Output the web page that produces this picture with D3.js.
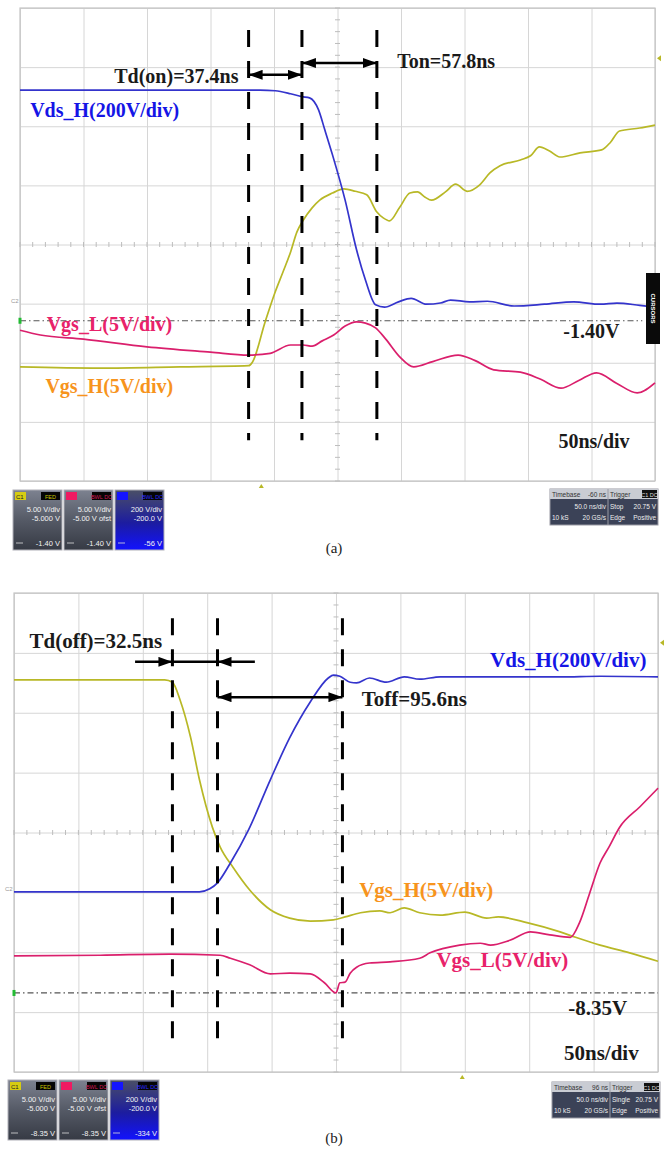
<!DOCTYPE html>
<html>
<head>
<meta charset="utf-8">
<script src="https://cdn.jsdelivr.net/npm/d3@7"></script>
<style>
body { margin:0; background:#fff; }
svg { display:block; }
.lbl { font-family:"Liberation Serif","Times New Roman",serif; font-weight:bold; }
.mini { font-family:"Liberation Sans",Arial,sans-serif; }
</style>
</head>
<body>
<div id="chart"></div>
<script>
// time in ns (50 ns/div, 10 div), level in divisions from screen centre (+-4 div)
const timeTicks = [0,50,100,150,200,250,300,350,400,450,500];
const divTicks  = [-4,-3,-2,-1,0,1,2,3,4];

// ---- (a) turn-on ----
const aVdsH = [[0,2.61],[63,2.61],[126,2.61],[189,2.61],[201,2.60],[213,2.55],[222,2.50],[228,2.48],[235,2.28],[240,1.94],[246,1.52],[256,0.75],[265,-0.09],[272,-0.60],[280,-1.02],[287,-1.06],[298,-0.97],[308,-0.91],[320,-1.01],[331,-0.99],[339,-0.94],[354,-0.97],[368,-0.96],[389,-1.04],[413,-1.01],[436,-0.97],[457,-1.01],[470,-0.99],[488,-1.03],[500,-1.06]];
const aVgsH = [[0,-2.07],[63,-2.09],[126,-2.07],[180,-2.05],[183,-1.99],[193,-1.31],[201,-0.80],[207,-0.47],[213,-0.13],[218,0.21],[223,0.41],[230,0.62],[236,0.75],[246,0.87],[255,0.94],[264,0.90],[273,0.84],[281,0.55],[286,0.45],[291,0.40],[299,0.63],[307,0.87],[313,0.89],[319,0.80],[324,0.75],[335,0.89],[343,1.02],[352,0.90],[362,1.01],[370,1.21],[378,1.33],[394,1.43],[402,1.50],[409,1.65],[417,1.58],[425,1.48],[441,1.55],[458,1.60],[465,1.73],[472,1.92],[488,1.97],[500,2.02]];
const aVgsL = [[0,-1.45],[16,-1.53],[50,-1.60],[100,-1.73],[150,-1.82],[180,-1.87],[197,-1.84],[213,-1.70],[223,-1.70],[230,-1.72],[238,-1.63],[247,-1.53],[256,-1.38],[265,-1.31],[272,-1.33],[280,-1.41],[288,-1.60],[299,-1.90],[310,-2.07],[325,-1.98],[345,-1.87],[358,-1.96],[373,-2.12],[394,-2.16],[410,-2.28],[426,-2.43],[440,-2.30],[454,-2.17],[470,-2.35],[486,-2.51],[500,-2.34]];
const aMarks  = [180, 222, 281];
const aCursor = -1.29;
const aArrows = [
  {t1:180, t2:222, v:2.87, start:true,  end:true},
  {t1:222, t2:281, v:3.07, start:true,  end:true}
];
const aLabels = [
  {text:"Td(on)=37.4ns",   t:172, v:2.73,  color:"#1a1a1a", anchor:"end"},
  {text:"Ton=57.8ns",      t:297, v:2.99,  color:"#1a1a1a", anchor:"start"},
  {text:"Vds_H(200V/div)", t:8,   v:2.16,  color:"#1515e6", anchor:"start"},
  {text:"Vgs_L(5V/div)",   t:21,  v:-1.46, color:"#e8226a", anchor:"start"},
  {text:"Vgs_H(5V/div)",   t:20,  v:-2.51, color:"#f7941d", anchor:"start"},
  {text:"-1.40V",          t:472, v:-1.58, color:"#1a1a1a", anchor:"end"},
  {text:"50ns/div",        t:480, v:-3.44, color:"#1a1a1a", anchor:"end"}
];
const aChanCursor = ["-1.40 V", "-1.40 V", "-56 V"];
const aTimebase = {pos:"-60 ns", mode:"Stop"};

// ---- (b) turn-off ----
const bVgsH = [[0,2.55],[67,2.55],[117,2.55],[123,2.51],[129,2.21],[137,1.60],[144,0.88],[154,0.09],[160,-0.24],[170,-0.58],[183,-0.96],[199,-1.29],[214,-1.43],[230,-1.48],[248,-1.46],[257,-1.41],[269,-1.34],[284,-1.31],[292,-1.34],[303,-1.26],[315,-1.34],[331,-1.38],[350,-1.33],[367,-1.43],[376,-1.41],[399,-1.51],[424,-1.66],[436,-1.75],[455,-1.88],[478,-2.01],[500,-2.15]];
const bVdsH = [[0,-0.99],[67,-0.99],[144,-0.99],[152,-0.94],[158,-0.84],[168,-0.51],[182,0.04],[199,0.88],[214,1.58],[230,2.18],[244,2.58],[248,2.63],[253,2.61],[261,2.51],[266,2.50],[276,2.58],[289,2.51],[303,2.60],[315,2.56],[331,2.60],[377,2.60],[424,2.60],[455,2.61],[500,2.60]];
const bVgsL = [[0,-2.06],[67,-2.05],[121,-2.03],[160,-2.05],[168,-2.10],[183,-2.21],[199,-2.36],[214,-2.35],[230,-2.36],[241,-2.51],[250,-2.68],[253,-2.51],[257,-2.50],[261,-2.35],[266,-2.25],[276,-2.18],[292,-2.16],[315,-2.10],[323,-2.01],[346,-1.88],[362,-1.85],[370,-1.88],[385,-1.80],[401,-1.66],[416,-1.71],[432,-1.75],[439,-1.51],[447,-1.01],[455,-0.51],[462,-0.24],[470,0.08],[486,0.43],[500,0.74]];
const bMarks  = [123, 158, 255];
const bCursor = -2.68;
const bArrows = [
  {t1:94,  t2:123, v:2.85, start:false, end:true},
  {t1:123, t2:158, v:2.85, start:false, end:false},
  {t1:187, t2:158, v:2.85, start:false, end:true},
  {t1:158, t2:255, v:2.26, start:true,  end:true}
];
const bLabels = [
  {text:"Td(off)=32.5ns",  t:12,  v:3.08,  color:"#1a1a1a", anchor:"start"},
  {text:"Toff=95.6ns",     t:270, v:2.11,  color:"#1a1a1a", anchor:"start"},
  {text:"Vds_H(200V/div)", t:491, v:2.76,  color:"#1515e6", anchor:"end"},
  {text:"Vgs_H(5V/div)",   t:268, v:-1.08, color:"#f7941d", anchor:"start"},
  {text:"Vgs_L(5V/div)",   t:328, v:-2.25, color:"#e8226a", anchor:"start"},
  {text:"-8.35V",          t:476, v:-3.05, color:"#1a1a1a", anchor:"end"},
  {text:"50ns/div",        t:485, v:-3.80, color:"#1a1a1a", anchor:"end"}
];
const bChanCursor = ["-8.35 V", "-8.35 V", "-334 V"];
const bTimebase = {pos:"96 ns", mode:"Single"};

const chanScale  = ["5.00 V/div", "5.00 V/div", "200 V/div"];
const chanOffset = ["-5.000 V", "-5.00 V ofst", "-200.0 V"];

const traceColor = {vgsH:"#b8b826", vgsL:"#da1f6c", vdsH:"#3434cc"};

const svg = d3.select("#chart").append("svg")
  .attr("width", 668).attr("height", 1156);
svg.append("rect").attr("width", 668).attr("height", 1156).attr("fill", "#fff");

const defs = svg.append("defs");
defs.append("marker").attr("id", "ah")
  .attr("viewBox", "0 0 14 10").attr("refX", 14).attr("refY", 5)
  .attr("markerWidth", 14).attr("markerHeight", 10)
  .attr("markerUnits", "userSpaceOnUse").attr("orient", "auto-start-reverse")
  .append("path").attr("d", "M0,0L14,5L0,10Z").attr("fill", "#000");

const gGray = defs.append("linearGradient").attr("id", "gGray").attr("x1",0).attr("y1",0).attr("x2",0).attr("y2",1);
gGray.append("stop").attr("offset", "0").attr("stop-color", "#7d8290");
gGray.append("stop").attr("offset", "0.5").attr("stop-color", "#555a66");
gGray.append("stop").attr("offset", "1").attr("stop-color", "#363a44");
const gBlue = defs.append("linearGradient").attr("id", "gBlue").attr("x1",0).attr("y1",0).attr("x2",0).attr("y2",1);
gBlue.append("stop").attr("offset", "0").attr("stop-color", "#4a4f66");
gBlue.append("stop").attr("offset", "0.55").attr("stop-color", "#1c1ca0");
gBlue.append("stop").attr("offset", "1").attr("stop-color", "#1212ff");

function drawPanel(p) {
  const x = d3.scaleLinear().domain([0, 500]).range([p.x0, p.x0 + p.w]);
  const y = d3.scaleLinear().domain([-4, 4]).range([p.y0 + p.h, p.y0]);
  const g = svg.append("g");

  // grid via axes
  g.append("g").attr("transform", "translate(0," + (p.y0 + p.h) + ")")
    .call(d3.axisBottom(x).tickValues(timeTicks).tickSize(-p.h).tickFormat(""))
    .call(a => a.select(".domain").remove())
    .call(a => a.selectAll("line").attr("stroke", "#d6d6d6"));
  g.append("g").attr("transform", "translate(" + p.x0 + ",0)")
    .call(d3.axisLeft(y).tickValues(divTicks).tickSize(-p.w).tickFormat(""))
    .call(a => a.select(".domain").remove())
    .call(a => a.selectAll("line").attr("stroke", "#d6d6d6"));
  g.append("rect").attr("x", p.x0).attr("y", p.y0).attr("width", p.w).attr("height", p.h)
    .attr("fill", "none").attr("stroke", "#c4c4c4").attr("stroke-width", 1.2);

  // minor ticks on centre lines
  g.append("g").selectAll("line").data(d3.range(0, 501, 10)).join("line")
    .attr("x1", d => x(d)).attr("x2", d => x(d))
    .attr("y1", y(0) - 2.5).attr("y2", y(0) + 2.5)
    .attr("stroke", "#bdbdbd");
  g.append("g").selectAll("line").data(d3.range(-20, 21).map(d => d / 5)).join("line")
    .attr("x1", x(250) - 2.5).attr("x2", x(250) + 2.5)
    .attr("y1", d => y(d)).attr("y2", d => y(d))
    .attr("stroke", "#bdbdbd");

  // cursor
  g.append("line").attr("x1", x(0)).attr("x2", x(p.cursorEnd))
    .attr("y1", y(p.cursor)).attr("y2", y(p.cursor))
    .attr("stroke", "#555").attr("stroke-width", 1.2).attr("stroke-dasharray", "6,3,1.5,3");
  g.append("rect").attr("x", x(0) - 1.5).attr("y", y(p.cursor) - 3).attr("width", 3).attr("height", 6)
    .attr("fill", "#22bb33");

  // traces
  const line = d3.line().x(d => x(d[0])).y(d => y(d[1])).curve(d3.curveMonotoneX);
  p.series.forEach(s => {
    g.append("path").datum(s.data).attr("d", line)
      .attr("fill", "none").attr("stroke", s.color).attr("stroke-width", 1.7);
  });

  // dashed time markers
  g.append("g").selectAll("line").data(p.marks).join("line")
    .attr("x1", d => x(d)).attr("x2", d => x(d))
    .attr("y1", y(p.markTop)).attr("y2", y(p.markBot))
    .attr("stroke", "#000").attr("stroke-width", 3).attr("stroke-dasharray", "17,14");

  // arrows
  g.append("g").selectAll("line").data(p.arrows).join("line")
    .attr("x1", d => x(d.t1)).attr("x2", d => x(d.t2))
    .attr("y1", d => y(d.v)).attr("y2", d => y(d.v))
    .attr("stroke", "#000").attr("stroke-width", 2.5)
    .attr("marker-start", d => d.start ? "url(#ah)" : null)
    .attr("marker-end", d => d.end ? "url(#ah)" : null);

  // labels
  g.append("g").selectAll("text").data(p.labels).join("text")
    .attr("class", "lbl")
    .attr("x", d => x(d.t)).attr("y", d => y(d.v))
    .attr("text-anchor", d => d.anchor)
    .attr("fill", d => d.color)
    .style("font-size", p.fs + "px")
    .text(d => d.text);

  // small scope markers
  g.append("path").attr("d", "M" + (x(500) + 2) + "," + y(p.trigLevel) + "l4,-3v6z").attr("fill", "#b8b826");
  g.append("path").attr("d", "M" + x(p.trigPos) + "," + (y(-4) + 3) + "l-2.5,4h5z").attr("fill", "#b8b826");
  g.append("text").attr("class", "mini").attr("x", p.x0 - 9).attr("y", y(p.c2Level) + 2)
    .style("font-size", "6px").attr("fill", "#999").text("C2");

  return {x, y};
}

function chanBoxes(x0, y0, cursorVals) {
  const specs = [
    {badge:"C1", bc:"#d6cc12", tag:"FED", tc:"#c9c200", fill:"url(#gGray)"},
    {badge:"C2", bc:"#ef1a62", tag:"BWL DC", tc:"#d21a55", fill:"url(#gGray)"},
    {badge:"C3", bc:"#1414ff", tag:"BWL DC", tc:"#2a2aff", fill:"url(#gBlue)"}
  ];
  const bw = 49, bh = 60;
  specs.forEach((s, i) => {
    const bx = x0 + i * 51;
    const g = svg.append("g").attr("class", "mini");
    g.append("rect").attr("x", bx).attr("y", y0).attr("width", bw).attr("height", bh)
      .attr("fill", s.fill).attr("stroke", "#b0b0b8").attr("stroke-width", 1);
    g.append("rect").attr("x", bx + 2).attr("y", y0 + 2).attr("width", 11).attr("height", 8).attr("fill", s.bc);
    g.append("text").attr("x", bx + 3).attr("y", y0 + 8.5).style("font-size", "6px").attr("fill", "#222").text(i === 0 ? s.badge : "");
    g.append("rect").attr("x", bx + 28).attr("y", y0 + 2).attr("width", 19).attr("height", 8).attr("fill", "#050505");
    g.append("text").attr("x", bx + 37.5).attr("y", y0 + 8.5).attr("text-anchor", "middle")
      .style("font-size", "5.5px").attr("fill", s.tc).text(s.tag);
    g.append("text").attr("x", bx + bw - 2).attr("y", y0 + 22).attr("text-anchor", "end")
      .style("font-size", "7.5px").attr("fill", "#f2f2f2").text(chanScale[i]);
    g.append("text").attr("x", bx + bw - 2).attr("y", y0 + 31).attr("text-anchor", "end")
      .style("font-size", "7.5px").attr("fill", "#f2f2f2").text(chanOffset[i]);
    g.append("line").attr("x1", bx + 3).attr("x2", bx + 10).attr("y1", y0 + 53).attr("y2", y0 + 53)
      .attr("stroke", "#ddd").attr("stroke-width", 0.8);
    g.append("text").attr("x", bx + bw - 2).attr("y", y0 + 56).attr("text-anchor", "end")
      .style("font-size", "7.5px").attr("fill", "#f2f2f2").text(cursorVals[i]);
  });
}

function timebaseBox(x0, y0, tb) {
  const g = svg.append("g").attr("class", "mini");
  const w1 = 58, w2 = 50, hh = 10, bh = 36;
  g.append("rect").attr("x", x0).attr("y", y0).attr("width", w1 + w2).attr("height", bh)
    .attr("fill", "#3b4257").attr("stroke", "#9a9aa4");
  g.append("rect").attr("x", x0).attr("y", y0).attr("width", w1 + w2).attr("height", hh).attr("fill", "#c9ccd3");
  g.append("line").attr("x1", x0 + w1).attr("x2", x0 + w1).attr("y1", y0).attr("y2", y0 + bh).attr("stroke", "#9a9aa4");
  g.append("rect").attr("x", x0 + w1 + w2 - 16).attr("y", y0 + 1).attr("width", 15).attr("height", 8).attr("fill", "#111");
  g.append("text").attr("x", x0 + w1 + w2 - 8.5).attr("y", y0 + 7.5).attr("text-anchor", "middle")
    .style("font-size", "5.5px").attr("fill", "#ddd").text("C1 DC");
  const t = (tx, ty, s, anchor, col) => g.append("text").attr("x", tx).attr("y", ty)
    .attr("text-anchor", anchor).style("font-size", "6.5px").attr("fill", col).text(s);
  t(x0 + 2, y0 + 8, "Timebase", "start", "#333");
  t(x0 + w1 - 2, y0 + 8, tb.pos, "end", "#333");
  t(x0 + w1 + 2, y0 + 8, "Trigger", "start", "#333");
  t(x0 + w1 - 2, y0 + 20, "50.0 ns/div", "end", "#eee");
  t(x0 + 2, y0 + 31, "10 kS", "start", "#eee");
  t(x0 + w1 - 2, y0 + 31, "20 GS/s", "end", "#eee");
  t(x0 + w1 + 2, y0 + 20, tb.mode, "start", "#eee");
  t(x0 + w1 + w2 - 2, y0 + 20, "20.75 V", "end", "#eee");
  t(x0 + w1 + 2, y0 + 31, "Edge", "start", "#eee");
  t(x0 + w1 + w2 - 2, y0 + 31, "Positive", "end", "#eee");
}

// panel (a)
drawPanel({
  x0:20, y0:8, w:635, h:473, fs:20,
  series:[
    {data:aVgsH, color:traceColor.vgsH},
    {data:aVgsL, color:traceColor.vgsL},
    {data:aVdsH, color:traceColor.vdsH}
  ],
  marks:aMarks, markTop:3.63, markBot:-3.31,
  cursor:aCursor, cursorEnd:490,
  arrows:aArrows, labels:aLabels,
  trigLevel:3.15, trigPos:190, c2Level:-0.95
});
// CURSORS tab
svg.append("rect").attr("x", 646).attr("y", 273).attr("width", 14).attr("height", 71).attr("fill", "#0a0a0a");
svg.append("text").attr("class", "mini").attr("transform", "translate(651,308.5) rotate(90)")
  .attr("text-anchor", "middle").style("font-size", "6px").style("font-weight", "bold")
  .attr("fill", "#fff").text("CURSORS");
chanBoxes(13, 490, aChanCursor);
timebaseBox(550, 489, aTimebase);
svg.append("text").attr("class", "mini").attr("x", 334).attr("y", 553).attr("text-anchor", "middle")
  .style("font-family", "'Liberation Serif',serif").style("font-size", "15px").attr("fill", "#222").text("(a)");

// panel (b)
drawPanel({
  x0:14, y0:593, w:644, h:479, fs:21,
  series:[
    {data:bVgsH, color:traceColor.vgsH},
    {data:bVgsL, color:traceColor.vgsL},
    {data:bVdsH, color:traceColor.vdsH}
  ],
  marks:bMarks, markTop:3.58, markBot:-3.50,
  cursor:bCursor, cursorEnd:500,
  arrows:bArrows, labels:bLabels,
  trigLevel:3.17, trigPos:348, c2Level:-0.95
});
chanBoxes(8, 1080, bChanCursor);
timebaseBox(552, 1082, bTimebase);
svg.append("text").attr("x", 334).attr("y", 1143).attr("text-anchor", "middle")
  .style("font-family", "'Liberation Serif',serif").style("font-size", "15px").attr("fill", "#222").text("(b)");
</script>
</body>
</html>
